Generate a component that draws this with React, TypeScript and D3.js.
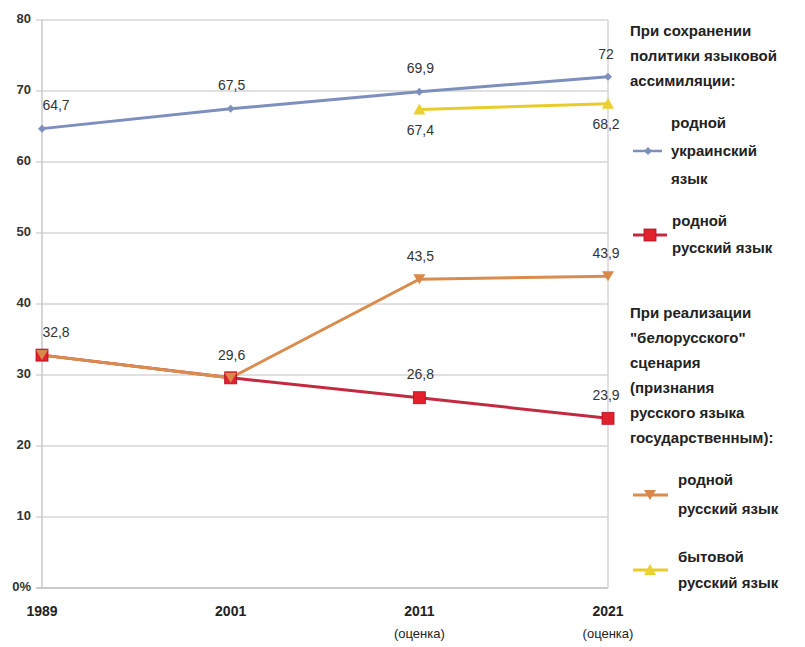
import React from "react";
import * as d3 from "d3";

const categories = ["1989", "2001", "2011", "2021"];
const subLabels = ["", "", "(оценка)", "(оценка)"];
const yTicks = [0, 10, 20, 30, 40, 50, 60, 70, 80];

const ukrNative = [64.7, 67.5, 69.9, 72];
const rusNativeAssim = [32.8, 29.6, 26.8, 23.9];
const rusNativeBel = [32.8, 29.6, 43.5, 43.9];
const rusEveryday = [null, null, 67.4, 68.2];

const fmt = (v: number) => String(v).replace(".", ",");

const W = 805, H = 647;
const x = d3.scalePoint<string>().domain(categories).range([42, 608]);
const y = d3.scaleLinear().domain([0, 80]).range([588, 20]);

const FONT = "'Liberation Sans Narrow', 'Arial Narrow', 'Liberation Sans', Arial, sans-serif";

type Series = {
  key: string;
  values: (number | null)[];
  color: string;
  lineColor: string;
  marker: "diamond" | "square" | "tridown" | "triup";
  labelPos: "above" | "below";
  showLabels: boolean[];
};

const series: Series[] = [
  { key: "ukr", values: ukrNative, color: "#7d8fbd", lineColor: "#7d8fbd", marker: "diamond", labelPos: "above", showLabels: [true, true, true, true] },
  { key: "assim", values: rusNativeAssim, color: "#e3202e", lineColor: "#c22a40", marker: "square", labelPos: "above", showLabels: [false, false, true, true] },
  { key: "bel", values: rusNativeBel, color: "#d9884a", lineColor: "#d98c4e", marker: "tridown", labelPos: "above", showLabels: [true, true, true, true] },
  { key: "every", values: rusEveryday, color: "#ecd032", lineColor: "#e8cc2c", marker: "triup", labelPos: "below", showLabels: [false, false, true, true] },
];

function Marker({ type, cx, cy, color }: { type: string; cx: number; cy: number; color: string }) {
  if (type === "square") return <rect x={cx - 6} y={cy - 6} width={12} height={12} fill={color} stroke="#b01020" strokeWidth={0.8} />;
  if (type === "diamond") return <path d={`M${cx},${cy - 4}L${cx + 4},${cy}L${cx},${cy + 4}L${cx - 4},${cy}Z`} fill={color} />;
  if (type === "tridown") return <path d={`M${cx - 6},${cy - 5}L${cx + 6},${cy - 5}L${cx},${cy + 5}Z`} fill={color} />;
  return <path d={`M${cx - 6},${cy + 5}L${cx + 6},${cy + 5}L${cx},${cy - 6}Z`} fill={color} />;
}

const line = d3
  .line<number | null>()
  .defined((d) => d !== null)
  .x((_, i) => x(categories[i]) as number)
  .y((d) => y(d as number));

const legendText = { fontFamily: FONT, fontSize: 15, fontWeight: 700, fill: "#222" } as const;

export default function App() {
  return (
    <svg width={W} height={H} style={{ position: "absolute", left: 0, top: 0, background: "#fff" }}>
      {/* gridlines */}
      {yTicks.map((t) => (
        <line key={t} x1={36} x2={608} y1={y(t)} y2={y(t)} stroke={t === 0 ? "#b8b8b8" : "#d6d6d6"} strokeWidth={1.5} />
      ))}
      <line x1={42} x2={42} y1={y(80)} y2={y(0)} stroke="#c8c8c8" strokeWidth={1.5} />
      <line x1={608} x2={608} y1={y(80)} y2={y(0)} stroke="#d6d6d6" strokeWidth={1.5} />
      {yTicks.map((t) => (
        <text key={t} x={31} y={y(t)} textAnchor="end" dominantBaseline="middle" fontFamily={FONT} fontSize={13} fontWeight={700} fill="#333">
          {t === 0 ? "0%" : t}
        </text>
      ))}
      {categories.map((c, i) => (
        <g key={c}>
          <text x={x(c)} y={616} textAnchor="middle" fontFamily={FONT} fontSize={14} fontWeight={700} fill="#222">{c}</text>
          {subLabels[i] && (
            <text x={x(c)} y={638} textAnchor="middle" fontFamily={FONT} fontSize={13} fill="#222">{subLabels[i]}</text>
          )}
        </g>
      ))}
      {/* lines */}
      {series.map((s) => (
        <path key={s.key} d={line(s.values) || ""} fill="none" stroke={s.lineColor} strokeWidth={3} />
      ))}
      {series.map((s) =>
        s.values.map((v, i) =>
          v === null ? null : <Marker key={s.key + i} type={s.marker} cx={x(categories[i]) as number} cy={y(v)} color={s.color} />
        )
      )}
      {/* labels */}
      {series.map((s) =>
        s.values.map((v, i) => {
          if (v === null || !s.showLabels[i]) return null;
          const px = x(categories[i]) as number;
          const py = y(v);
          const dx = i === 0 ? 14 : i === 3 ? -2 : 1;
          const dy = s.labelPos === "above" ? -22 : 22;
          return (
            <text key={s.key + "l" + i} x={px + dx} y={py + dy} textAnchor="middle" dominantBaseline="middle" fontFamily={FONT} fontSize={14} fill="#333">
              {fmt(v)}
            </text>
          );
        })
      )}
      {/* legend */}
      <g>
        {["При сохранении", "политики языковой", "ассимиляции:"].map((t, i) => (
          <text key={t} x={630} y={36 + i * 25} {...legendText}>{t}</text>
        ))}
        <line x1={633} x2={662} y1={151} y2={151} stroke="#7d8fbd" strokeWidth={2.5} />
        <Marker type="diamond" cx={648} cy={151} color="#7d8fbd" />
        {["родной", "украинский", "язык"].map((t, i) => (
          <text key={t} x={671} y={128 + i * 28} {...legendText}>{t}</text>
        ))}
        <line x1={633} x2={667} y1={235} y2={235} stroke="#c22a40" strokeWidth={3} />
        <Marker type="square" cx={650} cy={235} color="#e3202e" />
        {["родной", "русский язык"].map((t, i) => (
          <text key={t} x={672} y={226 + i * 27} {...legendText}>{t}</text>
        ))}
        {["При реализации", "\"белорусского\"", "сценария", "(признания", "русского языка", "государственным):"].map((t, i) => (
          <text key={t} x={630} y={318 + i * 25} {...legendText}>{t}</text>
        ))}
        <line x1={633} x2={668} y1={495} y2={495} stroke="#d98c4e" strokeWidth={3} />
        <Marker type="tridown" cx={650} cy={495} color="#d9884a" />
        {["родной", "русский язык"].map((t, i) => (
          <text key={t} x={678} y={485 + i * 29} {...legendText}>{t}</text>
        ))}
        <line x1={633} x2={668} y1={570} y2={570} stroke="#e8cc2c" strokeWidth={3} />
        <Marker type="triup" cx={650} cy={570} color="#ecd032" />
        {["бытовой", "русский язык"].map((t, i) => (
          <text key={t} x={678} y={562 + i * 26} {...legendText}>{t}</text>
        ))}
      </g>
    </svg>
  );
}
